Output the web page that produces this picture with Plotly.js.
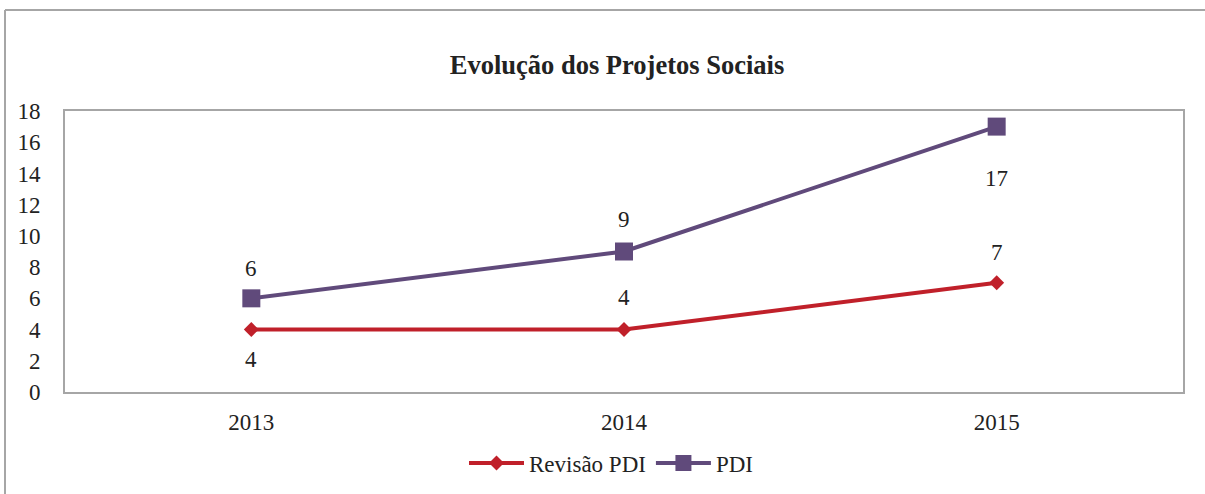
<!DOCTYPE html>
<html>
<head>
<meta charset="utf-8">
<script src="https://cdn.plot.ly/plotly-3.0.1.min.js"></script>
<style>
  html, body { margin: 0; padding: 0; background: #fff; }
  #chart { width: 1205px; height: 494px; }
</style>
</head>
<body>
<div id="chart"></div>
<script>
const years = ["2013", "2014", "2015"];
const revisaoPDI = [4, 4, 7];
const pdi = [6, 9, 17];
const revisaoLabelShift = [-30, 32, 30];
const pdiLabelShift = [30, 32, -52];

const W = 1205, H = 494;
const M = { l: 65, r: 22, t: 111, b: 102 };
const pw = W - M.l - M.r, ph = H - M.t - M.b;
const px = v => (v - M.l) / pw;
const py = v => (H - M.b - v) / ph;

const font = "Liberation Serif";
const txt = "#222";
const red = "#C0202A", purple = "#604A7B";

const traces = [
  {
    x: years, y: revisaoPDI, name: "Revisão PDI", type: "scatter", mode: "lines+markers",
    line: { color: red, width: 4 },
    marker: { symbol: "diamond", size: 11.5, color: red }
  },
  {
    x: years, y: pdi, name: "PDI", type: "scatter", mode: "lines+markers",
    line: { color: purple, width: 4 },
    marker: { symbol: "square", size: 18, color: purple }
  }
];

const annotations = [];
years.forEach((yr, i) => {
  annotations.push({ xref: "x", yref: "y", x: i, y: revisaoPDI[i], text: String(revisaoPDI[i]), showarrow: false,
    yshift: revisaoLabelShift[i], font: { family: font, size: 23, color: txt } });
  annotations.push({ xref: "x", yref: "y", x: i, y: pdi[i], text: String(pdi[i]), showarrow: false,
    yshift: pdiLabelShift[i], font: { family: font, size: 23, color: txt } });
});

const layout = {
  width: W, height: H,
  margin: M,
  paper_bgcolor: "#fff", plot_bgcolor: "#fff",
  font: { family: font, size: 23, color: txt },
  title: { text: "<b>Evolução dos Projetos Sociais</b>", x: 617 / W, xanchor: "center",
    y: 1 - 65 / H, yanchor: "middle", xref: "container", yref: "container",
    font: { family: font, size: 26.5, color: txt } },
  xaxis: {
    type: "category", range: [-0.5, 2.5], showgrid: false, zeroline: false,
    showline: true, mirror: true, linecolor: "#a6a6a6", linewidth: 2,
    ticks: "", ticklabelstandoff: 8, tickfont: { family: font, size: 23, color: txt }
  },
  yaxis: {
    range: [0, 18], dtick: 2, showgrid: false, zeroline: false,
    showline: true, mirror: true, linecolor: "#a6a6a6", linewidth: 2,
    ticks: "", ticklabelstandoff: 18, tickfont: { family: font, size: 23, color: txt }
  },
  legend: {
    orientation: "h", x: 611 / W, xref: "container", xanchor: "center",
    y: 1 - 463 / H, yref: "container", yanchor: "middle",
    font: { family: font, size: 23, color: txt }, itemwidth: 55
  },
  annotations: annotations,
  shapes: [
    { type: "line", xref: "paper", yref: "paper", x0: px(5), x1: px(5), y0: py(10), y1: py(500),
      line: { color: "#a6a6a6", width: 2 } },
    { type: "line", xref: "paper", yref: "paper", x0: px(5), x1: px(1210), y0: py(10), y1: py(10),
      line: { color: "#a6a6a6", width: 2 } }
  ]
};

Plotly.newPlot("chart", traces, layout, { displayModeBar: false, staticPlot: true });
</script>
</body>
</html>
